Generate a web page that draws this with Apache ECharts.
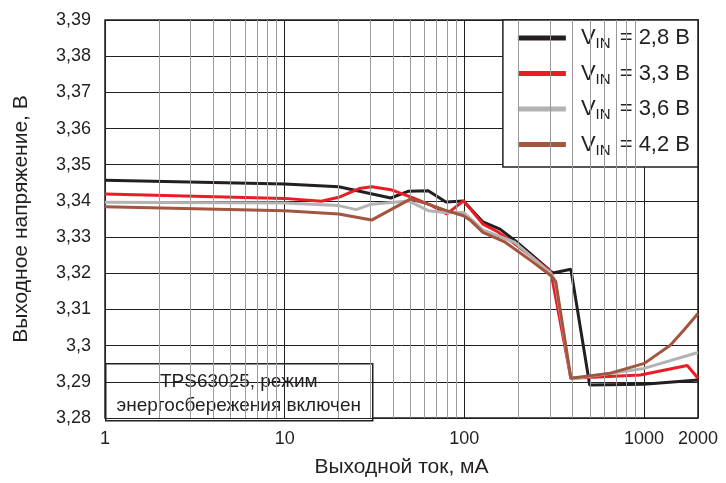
<!DOCTYPE html>
<html>
<head>
<meta charset="utf-8">
<script src="https://cdn.jsdelivr.net/npm/echarts@6/dist/echarts.min.js"></script>
<style>
  html, body { margin: 0; padding: 0; background: #fff; }
  #chart { width: 726px; height: 483px; }
</style>
</head>
<body>
<div id="chart"></div>
<script>
// Выходное напряжение в зависимости от тока нагрузки
const seriesNames = ['VIN = 2,8 В', 'VIN = 3,3 В', 'VIN = 3,6 В', 'VIN = 4,2 В']
const seriesColors = ['#231f20', '#ed1c24', '#b3b3b3', '#a3553f']

const current28 = [1, 10, 20, 39, 49, 63, 79, 99, 127, 158, 192, 311, 392, 499, 1000, 2000]
const voltage28 = [3.3457, 3.3447, 3.3439, 3.3408, 3.3427, 3.3428, 3.3397, 3.3400, 3.3342, 3.3322, 3.3290, 3.3201, 3.3211, 3.2891, 3.2893, 3.2905]

const current33 = [1, 10, 16, 20, 26, 30.5, 39, 51, 66, 80, 99, 127, 154, 192, 303, 392, 956, 1742, 2000]
const voltage33 = [3.3419, 3.3407, 3.3399, 3.3410, 3.3434, 3.3439, 3.3431, 3.3410, 3.3387, 3.3364, 3.3400, 3.3336, 3.3314, 3.3281, 3.3205, 3.2910, 3.2919, 3.2945, 3.2910]

const current36 = [1, 10, 20, 25, 30.5, 49, 63, 78, 99, 127, 192, 303, 320, 392, 1000, 2000]
const voltage36 = [3.3396, 3.3394, 3.3387, 3.3376, 3.3391, 3.3400, 3.3373, 3.3368, 3.3368, 3.3320, 3.3285, 3.3200, 3.3180, 3.2908, 3.2937, 3.2981]

const current42 = [1, 10, 20, 30.5, 50, 63, 79.5, 99, 109, 127, 169, 235, 303, 323, 392, 652, 1006, 1402, 1670, 2000]
const voltage42 = [3.3384, 3.3373, 3.3364, 3.3347, 3.3405, 3.3391, 3.3373, 3.3359, 3.3345, 3.3313, 3.3286, 3.3235, 3.3194, 3.3177, 3.2910, 3.2924, 3.2951, 3.3001, 3.3043, 3.3089]

const minorTicks = [2, 3, 4, 5, 6, 7, 8, 9, 20, 30, 40, 50, 60, 70, 80, 90, 200, 300, 400, 500, 600, 700, 800, 900]

const currents = [current28, current33, current36, current42]
const voltages = [voltage28, voltage33, voltage36, voltage42]

const font = "'Liberation Sans', Arial, sans-serif"
const textColor = '#231f20'

const chart = echarts.init(document.getElementById('chart'))

const series = seriesNames.map((name, i) => ({
  name: name,
  type: 'line',
  symbol: 'none',
  smooth: false,
  z: 3 + i,
  lineStyle: { color: seriesColors[i], width: 3 },
  itemStyle: { color: seriesColors[i] },
  data: currents[i].map((c, j) => [c, voltages[i][j]])
}))

// тонкие линии сетки между декадами
series.push({
  name: 'minor',
  type: 'line',
  data: [],
  silent: true,
  z: 1,
  markLine: {
    silent: true,
    symbol: 'none',
    label: { show: false },
    lineStyle: { color: '#9a9a9a', width: 1, type: 'solid' },
    data: minorTicks.map(v => ({ xAxis: v }))
  }
})

chart.setOption({
  animation: false,
  textStyle: { fontFamily: font },
  grid: {
    left: 105,
    right: 28,
    top: 20,
    bottom: 63,
    show: true,
    borderColor: textColor,
    borderWidth: 1.5,
    backgroundColor: '#fff'
  },
  legend: {
    data: seriesNames,
    orient: 'vertical',
    right: 28,
    top: 20,
    icon: 'rect',
    itemWidth: 48,
    itemHeight: 5,
    itemGap: 11,
    backgroundColor: '#fff',
    borderColor: textColor,
    borderWidth: 1.5,
    borderRadius: 0,
    padding: [7, 8, 9, 15],
    formatter: name => {
      const parts = name.split(' = ')
      return 'V{sub|IN} = ' + parts[1]
    },
    textStyle: {
      color: textColor,
      fontSize: 22,
      fontFamily: font,
      padding: [0, 0, 0, 10],
      rich: {
        sub: { fontSize: 15, fontFamily: font, color: textColor, verticalAlign: 'bottom', padding: [12, 3, 0, 0] }
      }
    }
  },
  xAxis: {
    type: 'log',
    logBase: 10,
    min: 1,
    max: 2000,
    name: 'Выходной ток, мА',
    nameLocation: 'middle',
    nameGap: 39,
    nameTextStyle: { color: textColor, fontSize: 21, fontFamily: font },
    axisLine: { show: false },
    axisTick: { show: false },
    axisLabel: {
      color: textColor,
      fontSize: 18,
      margin: 12,
      fontFamily: font,
      showMaxLabel: true,
      formatter: v => String(Math.round(v))
    },
    splitLine: { show: true, lineStyle: { color: textColor, width: 1 } }
  },
  yAxis: {
    type: 'value',
    min: 3.28,
    max: 3.39,
    interval: 0.01,
    name: 'Выходное напряжение, В',
    nameLocation: 'middle',
    nameGap: 73,
    nameTextStyle: { color: textColor, fontSize: 21, fontFamily: font },
    axisLine: { show: false },
    axisTick: { show: false },
    axisLabel: {
      color: textColor,
      fontSize: 18,
      margin: 14,
      fontFamily: font,
      formatter: v => String(+v.toFixed(2)).replace('.', ',')
    },
    splitLine: { show: true, lineStyle: { color: textColor, width: 1 } }
  },
  graphic: [
    {
      type: 'group',
      left: 105,
      top: 363,
      z: 100,
      children: [
        {
          type: 'rect',
          shape: { x: 0, y: 0, width: 267, height: 57 },
          style: { fill: '#fff', stroke: textColor, lineWidth: 1.5 }
        },
        {
          type: 'text',
          x: 133,
          y: 30,
          style: {
            text: 'TPS63025, режим\nэнергосбережения включен',
            align: 'center',
            verticalAlign: 'middle',
            fontSize: 19,
            lineHeight: 24,
            fontFamily: font,
            fill: textColor
          }
        }
      ]
    }
  ],
  series: series
})
</script>
</body>
</html>
